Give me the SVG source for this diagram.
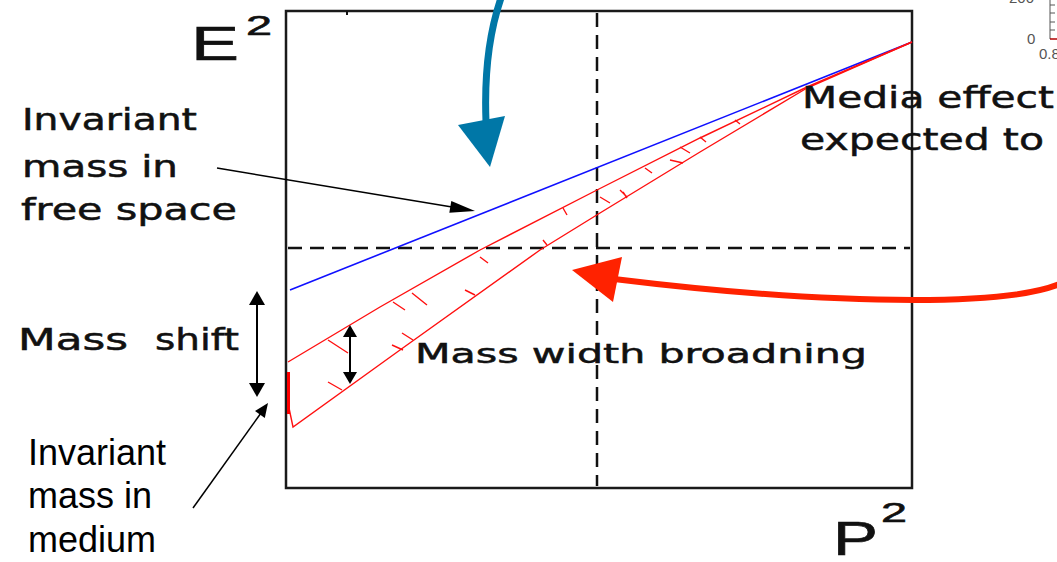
<svg xmlns="http://www.w3.org/2000/svg" width="1057" height="562" viewBox="0 0 1057 562">
<style>
.lbl{font-family:"DejaVu Sans",sans-serif;fill:#111;stroke:#111;stroke-width:0.5}
.big{font-family:"Liberation Sans",Arial,sans-serif;fill:#111;stroke:#111;stroke-width:0.6}
.med{font-family:"Liberation Sans",Arial,sans-serif;font-size:36px;fill:#000}
.frame{fill:none;stroke:#1a1a1a;stroke-width:2.5}
.dash{stroke:#111;stroke-width:2.5;stroke-dasharray:14 8;fill:none}
.blue{stroke:#1010ff;stroke-width:1.6;fill:none}
.red{stroke:#ff1010;stroke-width:1.4;fill:none}
.ptr{stroke:#000;stroke-width:1.5;fill:none}
.dbl{stroke:#000;stroke-width:2;fill:none}
.ax{font-family:"Liberation Sans",Arial,sans-serif;font-size:15px;fill:#555}
</style>
<rect width="1057" height="562" fill="#fff"/>

<g id="inset-fragment">
<text class="ax" x="1009" y="3">200</text>
<text class="ax" x="1027" y="44">0</text>
<text class="ax" x="1039" y="59">0.8</text>
<path d="M1050,0 V39 M1050,5 H1055 M1050,13 H1055 M1050,22 H1055 M1050,30 H1055" stroke="#555" stroke-width="1" fill="none"/>
<line x1="1050" y1="39" x2="1057" y2="39" stroke="#b00000" stroke-width="1.5"/>
</g>

<g id="plot">
<rect class="frame" x="286" y="11" width="626" height="477"/>
<line x1="347" y1="11" x2="347" y2="15" stroke="#111" stroke-width="2"/>
<line class="dash" x1="597" y1="13" x2="597" y2="486"/>
<line class="dash" x1="288" y1="248" x2="910" y2="248"/>
</g>

<g id="curves">
<line id="free-line" class="blue" x1="290" y1="290" x2="912" y2="42"/>
<polyline id="medium-upper" class="red" points="288,362 380,307 480,250 597,190 700,138 807,87 912,42"/>
<polyline id="medium-lower" class="red" points="289,408 293,427 400,350 540,250 600,213 700,152 807,88 912,42"/>
<line x1="288.5" y1="372" x2="288.5" y2="414" stroke="#ff0000" stroke-width="3"/>
<path class="red" d="M328,340 L348,353 M393,302 L405,310 M412,293 L427,305 M480,257 L488,263 M563,208 L567,215 M600,197 L610,203 M623,192 L627,198 M680,147 L690,153 M328,382 L342,390 M392,345 L403,350 M402,333 L413,340 M465,290 L475,295 M543,240 L547,245 M620,190 L627,197 M670,160 L683,163 M645,168 L652,173 M700,137 L706,142 M735,120 L740,124"/>
</g>

<g id="label-E2">
<text class="big" x="191" y="60" font-size="48" textLength="48" lengthAdjust="spacingAndGlyphs">E</text>
<text class="big" x="246" y="35" font-size="28" textLength="26" lengthAdjust="spacingAndGlyphs">2</text>
</g>

<g id="label-P2">
<text class="big" x="833" y="555" font-size="48" textLength="45" lengthAdjust="spacingAndGlyphs">P</text>
<text class="big" x="881" y="522" font-size="28" textLength="26" lengthAdjust="spacingAndGlyphs">2</text>
</g>

<g id="label-free-space">
<text class="lbl" x="22" y="130" font-size="30" textLength="175" lengthAdjust="spacingAndGlyphs">Invariant</text>
<text class="lbl" x="22" y="177" font-size="30" textLength="156" lengthAdjust="spacingAndGlyphs">mass in</text>
<text class="lbl" x="21" y="220" font-size="30" textLength="216" lengthAdjust="spacingAndGlyphs">free space</text>
</g>

<g id="label-mass-shift">
<text class="lbl" y="350" font-size="30"><tspan x="18" textLength="110" lengthAdjust="spacingAndGlyphs">Mass</tspan> <tspan x="155" textLength="84" lengthAdjust="spacingAndGlyphs">shift</tspan></text>
</g>

<g id="label-width">
<text class="lbl" x="415" y="363" font-size="27" textLength="452" lengthAdjust="spacingAndGlyphs">Mass width broadning</text>
</g>

<g id="label-media">
<text class="lbl" x="802" y="108" font-size="31" textLength="252" lengthAdjust="spacingAndGlyphs">Media effect</text>
<text class="lbl" x="800" y="150" font-size="31" textLength="244" lengthAdjust="spacingAndGlyphs">expected to</text>
</g>

<g id="label-medium">
<text class="med" x="28" y="465">Invariant</text>
<text class="med" x="28" y="508">mass in</text>
<text class="med" x="28" y="552">medium</text>
</g>

<g id="connectors">
<line class="ptr" x1="217" y1="168" x2="452" y2="207"/>
<polygon points="475,211 451.3,201 449.3,212.8" fill="#000"/>
<line class="ptr" x1="193" y1="508" x2="261" y2="413"/>
<polygon points="268,403 264.8,417.9 255,410.9" fill="#000"/>
<line class="dbl" x1="257" y1="300" x2="257" y2="388"/>
<polygon points="257,291 249,305 265,305" fill="#000"/>
<polygon points="257,397 249,383 265,383" fill="#000"/>
<line class="dbl" x1="350" y1="332" x2="350" y2="377"/>
<polygon points="350,325 343,337 357,337" fill="#000"/>
<polygon points="350,384 343,372 357,372" fill="#000"/>
<path d="M501,-2 C490,30 484,70 486,122" stroke="#0077a7" stroke-width="7" fill="none"/>
<polygon points="458,125 505,116 490,167" fill="#0077a7"/>
<path d="M1062,283 C1040,293 1000,300 913,300 C820,300 720,292 614,279" stroke="#ff2200" stroke-width="6" fill="none"/>
<polygon points="572,270 622,257 613,302" fill="#ff2200"/>
</g>
</svg>
